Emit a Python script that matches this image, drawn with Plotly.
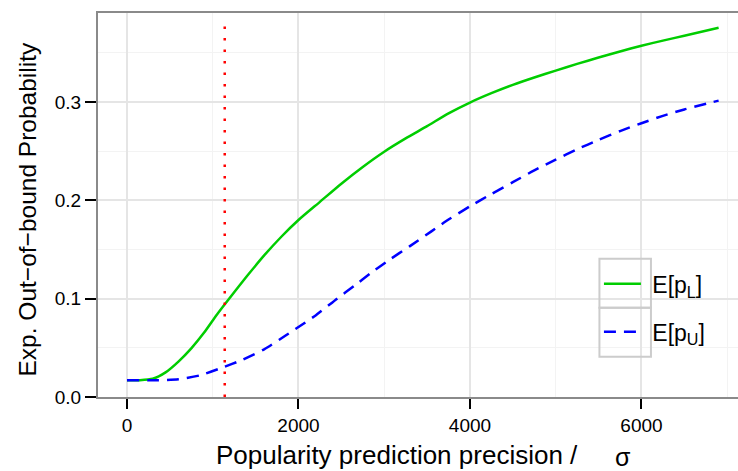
import plotly.graph_objects as go

# --- data ---
x_lower = [0, 150, 300, 450, 600, 750, 900, 1050, 1200, 1400, 1600, 1800, 2000,
           2250, 2500, 2750, 3000, 3250, 3500, 3750, 4000, 4250, 4500, 4750,
           5000, 5250, 5500, 5750, 6000, 6250, 6500, 6900]
e_lower = [0.0170, 0.0171, 0.0185, 0.0250, 0.0360, 0.0495, 0.0655, 0.0840,
           0.1010, 0.1230, 0.1440, 0.1630, 0.1800, 0.1985, 0.2170, 0.2340,
           0.2495, 0.2630, 0.2755, 0.2885, 0.2995, 0.3090, 0.3175, 0.3250,
           0.3320, 0.3388, 0.3453, 0.3515, 0.3573, 0.3625, 0.3675, 0.3755]

x_upper = [0, 300, 600, 850, 1100, 1350, 1600, 1850, 2000, 2200, 2450, 2650,
           2850, 3050, 3300, 3550, 3750, 4000, 4250, 4500, 4750, 5000, 5250,
           5500, 5750, 6000, 6250, 6500, 6900]
e_upper = [0.0170, 0.0170, 0.0180, 0.0220, 0.0295, 0.0380, 0.0485, 0.0625,
           0.0712, 0.0830, 0.1000, 0.1130, 0.1265, 0.1390, 0.1535, 0.1685,
           0.1805, 0.1940, 0.2065, 0.2185, 0.2305, 0.2415, 0.2520, 0.2615,
           0.2705, 0.2785, 0.2860, 0.2925, 0.3015]

vline_x = 1140

x_ticks = [0, 2000, 4000, 6000]
y_ticks = [0.0, 0.1, 0.2, 0.3]
y_tick_labels = ["0.0", "0.1", "0.2", "0.3"]

legend_lower = " E[p<sub>L</sub>]"
legend_upper = " E[p<sub>U</sub>]"
x_title = "Popularity prediction precision /"
x_title_sym = "\u03c3"
y_title = "Exp. Out\u2212of\u2212bound Probability"

FONT = "Liberation Sans, Arial, sans-serif"

fig = go.Figure()
fig.add_trace(go.Scatter(x=x_lower, y=e_lower, mode="lines", name=legend_lower,
                         legendgroup="a", line_shape="spline",
                         line=dict(color="#00cd00", width=2.5, smoothing=0.6)))
fig.add_trace(go.Scatter(x=x_upper, y=e_upper, mode="lines", name=legend_upper,
                         legendgroup="b", line_shape="spline",
                         line=dict(color="#0000ff", width=2.5, dash="12px,8px", smoothing=0.6)))

fig.add_shape(type="line", xref="x", yref="paper", x0=vline_x, x1=vline_x,
              y0=0, y1=0.98, line=dict(color="#ff0000", width=2.5, dash="2.5px,9px"))

# pixel helpers for the panel
L, R = 98.3, 738.0
T, B = 12.7, 396.7
def px(xp):
    return (xp - L) / (R - L)
def py(yp):
    return (B - yp) / (B - T)

for top, bot in [(258.5, 307.5), (307.5, 356.5)]:
    fig.add_shape(type="rect", xref="paper", yref="paper",
                  x0=px(599.5), x1=px(651), y0=py(bot), y1=py(top),
                  line=dict(color="#cccccc", width=2), fillcolor="rgba(0,0,0,0)")

fig.add_annotation(text=x_title, xref="paper", yref="paper",
                   x=px(214), y=py(455), xanchor="left", yanchor="middle",
                   showarrow=False, font=dict(family=FONT, size=26, color="#000"))
fig.add_annotation(text=x_title_sym, xref="paper", yref="paper",
                   x=px(623), y=py(457), xanchor="center", yanchor="middle",
                   showarrow=False, font=dict(family=FONT, size=25, color="#000"))
fig.add_annotation(text=y_title, xref="paper", yref="paper",
                   x=px(27.5), y=py(209), xanchor="center", yanchor="middle",
                   textangle=-90, showarrow=False,
                   font=dict(family=FONT, size=24.5, color="#000"))

fig.update_layout(
    width=738, height=471,
    margin=dict(l=98, r=0, t=13, b=74),
    paper_bgcolor="white", plot_bgcolor="white",
    font=dict(family=FONT, size=19, color="#000"),
    showlegend=True,
    legend=dict(x=px(599), y=py(262), xanchor="left", yanchor="top",
                bgcolor="rgba(0,0,0,0)", borderwidth=0,
                traceorder="grouped", tracegroupgap=15, itemwidth=37,
                font=dict(family=FONT, size=23, color="#000")),
    xaxis=dict(range=[-338, 7126], tickvals=x_ticks, ticktext=[str(v) for v in x_ticks],
               showgrid=True, gridcolor="#e5e5e5", gridwidth=1.5,
               minor=dict(dtick=1000, tick0=0, showgrid=True, gridcolor="#f3f3f3", gridwidth=1),
               zeroline=False, showline=True, linecolor="#8a8a8a", linewidth=2,
               mirror=True, ticks="outside", ticklen=10, tickwidth=2, tickcolor="#000",
               tickfont=dict(size=19)),
    yaxis=dict(range=[0, 0.3906], tickvals=y_ticks, ticktext=y_tick_labels,
               showgrid=True, gridcolor="#e5e5e5", gridwidth=1.5,
               minor=dict(dtick=0.05, tick0=0, showgrid=True, gridcolor="#f3f3f3", gridwidth=1),
               zeroline=False, showline=True, linecolor="#8a8a8a", linewidth=2,
               mirror=False, ticks="outside", ticklen=11, tickwidth=2, tickcolor="#000",
               tickfont=dict(size=19)),
)

fig.write_html("out.html")
